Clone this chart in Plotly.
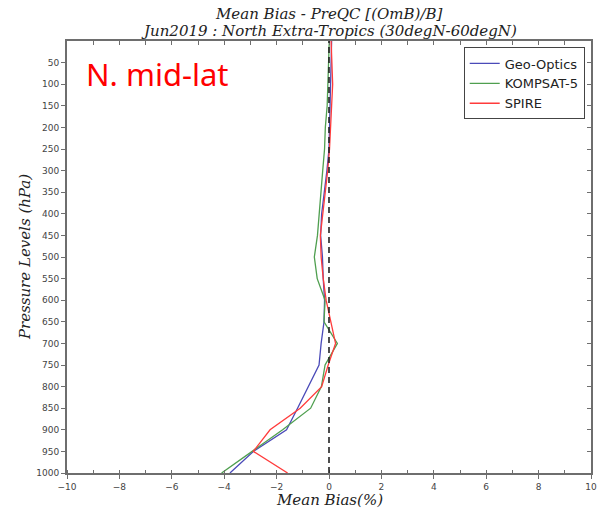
import plotly.graph_objects as go

levels = [0, 50, 100, 150, 200, 250, 300, 350, 400, 450, 500,
          550, 600, 650, 700, 750, 800, 850, 900, 950, 1000]

geo_optics = [0.10, 0.08, 0.07, 0.05, 0.03, 0.00, -0.08, -0.18, -0.28, -0.32, -0.25,
              -0.22, -0.17, -0.19, -0.30, -0.38, -0.78, -1.20, -1.62, -2.89, -3.78]
kompsat5 = [0.01, -0.01, -0.03, -0.07, -0.14, -0.17, -0.24, -0.31, -0.38, -0.44, -0.56,
            -0.45, -0.15, -0.19, 0.32, -0.15, -0.29, -0.70, -1.77, -2.95, -4.10]
spire = [0.08, 0.10, 0.14, 0.10, 0.07, 0.02, -0.05, -0.15, -0.25, -0.33, -0.30,
         -0.22, -0.11, 0.06, 0.25, -0.03, -0.28, -1.10, -2.25, -2.89, -1.58]

series_names = ["Geo-Optics", "KOMPSAT-5", "SPIRE"]
series_colors = ["#4a4ab8", "#4f9f4f", "#ff3b3b"]
series_values = [geo_optics, kompsat5, spire]

ytick_vals = [50, 100, 150, 200, 250, 300, 350, 400, 450, 500,
              550, 600, 650, 700, 750, 800, 850, 900, 950, 1000]
xtick_vals = [-10, -8, -6, -4, -2, 0, 2, 4, 6, 8, 10]
xtick_text = ["\u221210", "\u22128", "\u22126", "\u22124", "\u22122", "0", "2", "4", "6", "8", "10"]

fig = go.Figure()
for name, color, vals in zip(series_names, series_colors, series_values):
    fig.add_trace(go.Scatter(x=vals, y=levels, mode="lines", name=name,
                             line=dict(color=color, width=1.3)))

# invisible trace to activate the mirrored (top/right) axes
fig.add_trace(go.Scatter(x=[None], y=[None], xaxis="x2", yaxis="y2",
                         showlegend=False, hoverinfo="skip"))

fig.add_shape(type="line", xref="x", yref="paper", x0=0, x1=0, y0=0, y1=1,
              line=dict(color="#222222", width=1.6, dash="6px,4px"), layer="above")

axis_color = "#6e6e6e"
tickfont = dict(family="DejaVu Sans", size=9, color="#444444")

fig.update_layout(
    width=597, height=512,
    margin=dict(l=67, r=6, t=41, b=39, autoexpand=False),
    paper_bgcolor="white", plot_bgcolor="white",
    showlegend=True,
    legend=dict(x=0.988, y=0.985, xanchor="right", yanchor="top",
                bgcolor="white", bordercolor="#444444", borderwidth=1,
                font=dict(family="DejaVu Sans", size=13, color="#222222"),
                itemwidth=30, tracegroupgap=0),
    xaxis=dict(range=[-10, 10], tickvals=xtick_vals, ticktext=xtick_text,
               ticks="outside", ticklen=4, tickcolor=axis_color, tickwidth=1,
               minor=dict(dtick=1, ticks="inside", ticklen=3, tickcolor=axis_color),
               showline=True, linecolor=axis_color, linewidth=2,
               ticklabeloverflow="allow", automargin=False,
               showgrid=False, zeroline=False, tickfont=tickfont),
    xaxis2=dict(range=[-10, 10], overlaying="x", side="top", dtick=1,
                ticks="inside", ticklen=4, tickcolor=axis_color, showticklabels=False,
                showline=True, linecolor=axis_color, linewidth=2, automargin=False,
                showgrid=False, zeroline=False),
    yaxis=dict(range=[1000, 0], tickvals=ytick_vals,
               ticks="outside", ticklen=4, tickcolor=axis_color,
               showline=True, linecolor=axis_color, linewidth=2,
               ticklabeloverflow="allow", automargin=False,
               showgrid=False, zeroline=False, tickfont=tickfont),
    yaxis2=dict(range=[1000, 0], overlaying="y", side="right", tickvals=ytick_vals,
                ticks="inside", ticklen=4, tickcolor=axis_color, showticklabels=False,
                showline=True, linecolor=axis_color, linewidth=2, automargin=False,
                showgrid=False, zeroline=False),
)

title_font = dict(family="DejaVu Serif", size=15, color="#222222")
fig.add_annotation(text="<i>Mean Bias - PreQC [(OmB)/B]</i>", xref="paper", yref="paper",
                   x=0.5, y=1.062, xanchor="center", yanchor="middle",
                   showarrow=False, font=title_font)
fig.add_annotation(text="<i>Jun2019 : North Extra-Tropics (30degN-60degN)</i>",
                   xref="paper", yref="paper", x=0.5, y=1.024,
                   xanchor="center", yanchor="middle", showarrow=False, font=title_font)
fig.add_annotation(text="<i>Mean Bias(%)</i>", xref="paper", yref="paper",
                   x=0.5, y=-0.062, xanchor="center", yanchor="middle",
                   showarrow=False, font=title_font)
fig.add_annotation(text="<i>Pressure Levels (hPa)</i>", xref="paper", yref="paper",
                   x=-0.08, y=0.5, xanchor="center", yanchor="middle", textangle=-90,
                   showarrow=False, font=title_font)
fig.add_annotation(text="N. mid-lat", xref="paper", yref="paper",
                   x=(84 - 67) / 524, y=(472 - 73) / 432, xanchor="left", yanchor="middle",
                   showarrow=False, font=dict(family="Noto Sans", size=31, color="#ff0000"))

fig.write_html("out.html")
